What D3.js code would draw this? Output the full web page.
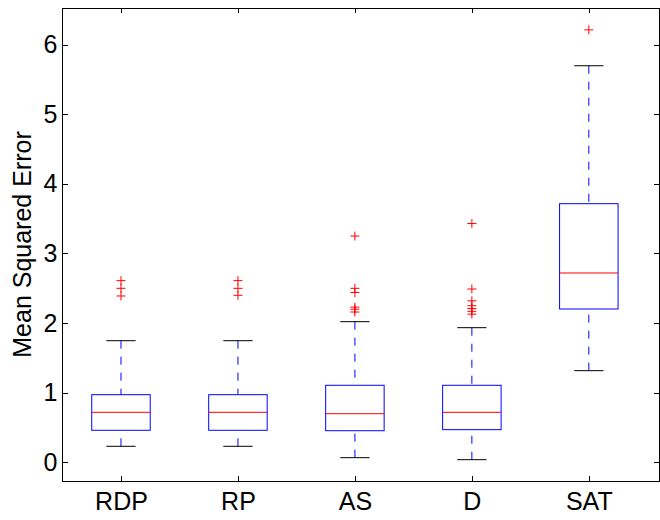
<!DOCTYPE html>
<html><head><meta charset="utf-8">
<script src="https://cdn.jsdelivr.net/npm/d3@7"></script>
<style>
html,body{margin:0;padding:0;background:#fff;}
svg text{font-family:"Liberation Sans",Arial,Helvetica,sans-serif;}
</style>
</head><body>
<svg id="chart" width="660" height="520"></svg>
<script>
const categories = ["RDP", "RP", "AS", "D", "SAT"];
const whiskerLow  = [0.232, 0.232, 0.069, 0.040, 1.318];
const q1Values    = [0.462, 0.462, 0.456, 0.471, 2.203];
const medians     = [0.720, 0.720, 0.700, 0.720, 2.720];
const q3Values    = [0.973, 0.973, 1.108, 1.108, 3.715];
const whiskerHigh = [1.748, 1.748, 2.021, 1.935, 5.695];
const outliers = [
  [2.61, 2.50, 2.39],
  [2.61, 2.50, 2.40],
  [3.25, 2.50, 2.44, 2.23, 2.20, 2.16],
  [3.43, 2.49, 2.32, 2.25, 2.21, 2.17, 2.13],
  [6.21]
];
const yTicks = [0, 1, 2, 3, 4, 5, 6];
const yLabel = "Mean Squared Error";

const svg = d3.select("#chart");
const L = 62.5, R = 659, T = 8, B = 481;
const x = d3.scaleLinear().domain([0.5, 5.6]).range([L, R]);
const y = d3.scaleLinear().domain([-0.266, 6.524]).range([B, T]);
const unit = x(2) - x(1);
const boxHalf = unit * 0.25, capHalf = unit * 0.125;
const fs = 25;

// axes
const gL = svg.append("g").attr("transform", `translate(${L},0)`)
  .call(d3.axisLeft(y).tickValues(yTicks).tickFormat(d3.format("d")).tickSizeInner(-5).tickSizeOuter(0).tickPadding(5));
const gR = svg.append("g").attr("transform", `translate(${R},0)`)
  .call(d3.axisRight(y).tickValues(yTicks).tickFormat("").tickSizeInner(-5).tickSizeOuter(0));
const xIdx = categories.map((c, i) => i + 1);
const gB = svg.append("g").attr("transform", `translate(0,${B})`)
  .call(d3.axisBottom(x).tickValues(xIdx).tickFormat((d, i) => categories[i]).tickSizeInner(-5).tickSizeOuter(0).tickPadding(11));
const gT = svg.append("g").attr("transform", `translate(0,${T})`)
  .call(d3.axisTop(x).tickValues(xIdx).tickFormat("").tickSizeInner(-5).tickSizeOuter(0));
[gL, gR, gB, gT].forEach(g => {
  g.select(".domain").remove();
  g.selectAll("line").attr("stroke", "#000").attr("shape-rendering", "crispEdges");
  g.selectAll("text").attr("font-size", fs).attr("fill", "#000")
    .style("font-family", '"Liberation Sans",Arial,sans-serif');
});
gB.selectAll("text").attr("dy", "0.71em");
svg.append("rect").attr("x", L).attr("y", T).attr("width", R - L).attr("height", B - T)
  .attr("fill", "none").attr("stroke", "#000").attr("stroke-width", 1).attr("shape-rendering", "crispEdges");

// y label
svg.append("text").attr("transform", `translate(31,${(T + B) / 2}) rotate(-90)`)
  .attr("text-anchor", "middle").attr("font-size", fs).attr("fill", "#000").text(yLabel);

// boxes
const g = svg.append("g");
categories.forEach((c, i) => {
  const cx = x(i + 1);
  // whiskers (dashed)
  g.append("line").attr("x1", cx).attr("x2", cx).attr("y1", y(whiskerHigh[i])).attr("y2", y(q3Values[i]))
    .attr("stroke", "#0000ff").attr("stroke-dasharray", "8,8");
  g.append("line").attr("x1", cx).attr("x2", cx).attr("y1", y(whiskerLow[i])).attr("y2", y(q1Values[i]))
    .attr("stroke", "#0000ff").attr("stroke-dasharray", "8,8");
  // caps
  [whiskerHigh[i], whiskerLow[i]].forEach(v => {
    g.append("line").attr("x1", cx - capHalf).attr("x2", cx + capHalf).attr("y1", y(v)).attr("y2", y(v))
      .attr("stroke", "#000");
  });
  // box
  g.append("rect").attr("x", cx - boxHalf).attr("width", 2 * boxHalf)
    .attr("y", y(q3Values[i])).attr("height", y(q1Values[i]) - y(q3Values[i]))
    .attr("fill", "none").attr("stroke", "#0000ff");
  // median
  g.append("line").attr("x1", cx - boxHalf).attr("x2", cx + boxHalf)
    .attr("y1", y(medians[i])).attr("y2", y(medians[i])).attr("stroke", "#ff0000");
  // outliers
  outliers[i].forEach(v => {
    const py = y(v);
    g.append("path").attr("d", `M${cx - 4.5},${py}H${cx + 4.5}M${cx},${py - 4.5}V${py + 4.5}`)
      .attr("stroke", "#ff0000").attr("fill", "none");
  });
});
</script>
</body></html>
